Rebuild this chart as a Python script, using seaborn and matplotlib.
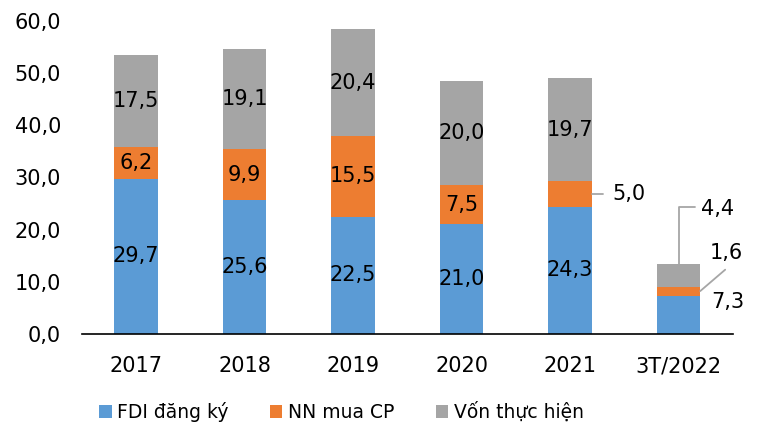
import numpy as np
import pandas as pd
import matplotlib.pyplot as plt
from matplotlib.patches import Patch
import seaborn as sns

# data
years = ['2017', '2018', '2019', '2020', '2021', '3T/2022']
fdi_dang_ky = [29.7, 25.6, 22.5, 21.0, 24.3, 7.3]
nn_mua_cp = [6.2, 9.9, 15.5, 7.5, 5.0, 1.6]
von_thuc_hien = [17.5, 19.1, 20.4, 20.0, 19.7, 4.4]
series_names = ['FDI đăng ký', 'NN mua CP', 'Vốn thực hiện']
colors = ['#5B9BD5', '#ED7D31', '#A5A5A5']
y_ticks = [0, 10, 20, 30, 40, 50, 60]

FS = 15


def fmt(v):
    return f'{v:.1f}'.replace('.', ',')


df = pd.DataFrame({'year': years, 'fdi': fdi_dang_ky, 'nn': nn_mua_cp, 'von': von_thuc_hien})
# cumulative heights, drawn back to front to get a stacked look
df['top1'] = df['fdi']
df['top2'] = df['fdi'] + df['nn']
df['top3'] = df['top2'] + df['von']

sns.set_theme(style='white')
plt.rcParams['font.family'] = ['DejaVu Sans']
plt.rcParams['text.color'] = 'black'

fig, ax = plt.subplots(figsize=(7.57, 4.28), dpi=100)
fig.subplots_adjust(left=0.108, right=0.968, top=0.951, bottom=0.22)

for col, c in zip(['top3', 'top2', 'top1'], colors[::-1]):
    sns.barplot(data=df, x='year', y=col, color=c, saturation=1, width=0.4,
                errorbar=None, linewidth=0, ax=ax)

# values inside the segments
last = len(years) - 1
for i in range(len(years)):
    if i == last:
        continue
    ax.text(i, df['fdi'][i] / 2, fmt(df['fdi'][i]), ha='center', va='center', fontsize=FS, color='black')
    ax.text(i, df['top3'][i] - df['von'][i] / 2, fmt(df['von'][i]), ha='center', va='center',
            fontsize=FS, color='black')
    if i != 4:
        ax.text(i, df['top2'][i] - df['nn'][i] / 2, fmt(df['nn'][i]), ha='center', va='center',
                fontsize=FS, color='black')

# outside labels with leader lines
lead = dict(color='#A6A6A6', lw=1.3, clip_on=False)
mid_nn_2021 = df['top2'][4] - df['nn'][4] / 2
ax.plot([4.2, 4.3], [mid_nn_2021, mid_nn_2021], **lead)
ax.text(4.39, mid_nn_2021, fmt(df['nn'][4]), ha='left', va='center', fontsize=FS)

ax.plot([last, last, last + 0.15], [df['top3'][last], 24.3, 24.3], **lead)
ax.text(last + 0.21, 24.0, fmt(df['von'][last]), ha='left', va='center', fontsize=FS)

ax.plot([last + 0.2, last + 0.43], [8.2, 12.3], **lead)
ax.text(last + 0.29, 15.5, fmt(df['nn'][last]), ha='left', va='center', fontsize=FS)

ax.text(last + 0.3, 6.1, fmt(df['fdi'][last]), ha='left', va='center', fontsize=FS)

ax.set_xlim(-0.5, 5.5)
ax.set_ylim(0, 60)
ax.set_yticks(y_ticks)
ax.set_yticklabels([fmt(t) for t in y_ticks])
ax.set_xlabel('')
ax.set_ylabel('')
ax.tick_params(axis='both', length=0, labelsize=FS, colors='black')
ax.tick_params(axis='y', pad=15)
ax.tick_params(axis='x', pad=16)
for s in ['left', 'top', 'right']:
    ax.spines[s].set_visible(False)
ax.spines['bottom'].set_color('black')
ax.spines['bottom'].set_linewidth(1.2)

handles = [Patch(facecolor=c, edgecolor='none') for c in colors]
fig.legend(handles, series_names, loc='center', bbox_to_anchor=(0.451, 1 - 412 / 428), ncol=3,
           frameon=False, fontsize=13.5, handlelength=0.66, handleheight=0.66,
           handletextpad=0.3, columnspacing=2.2, labelcolor='black')

fig.savefig('out.png', dpi=100)
